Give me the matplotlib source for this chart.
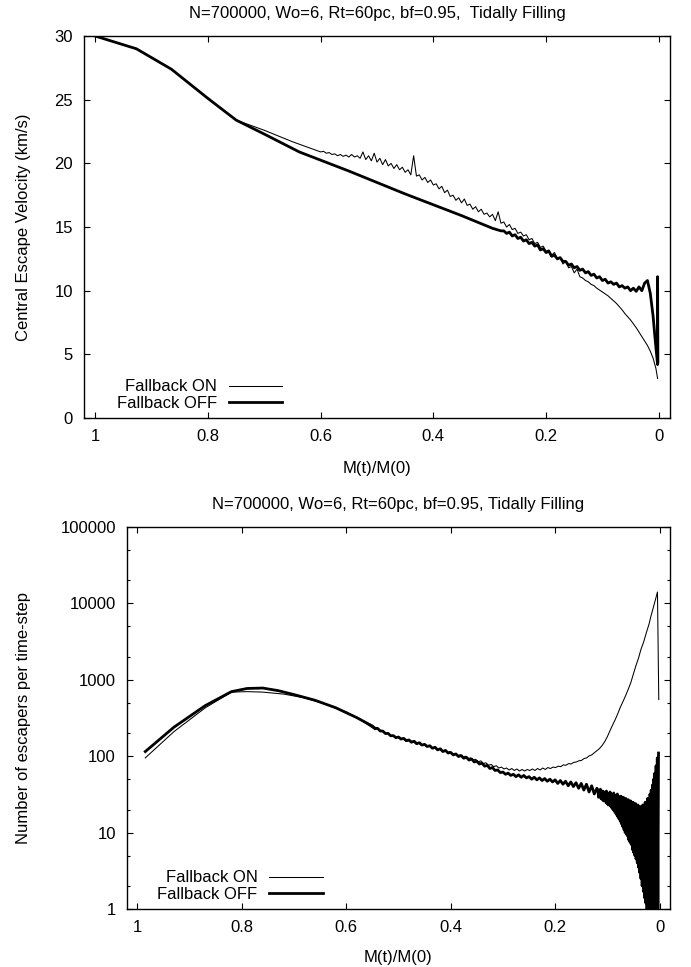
import numpy as np
import matplotlib
matplotlib.use("Agg")
import matplotlib.pyplot as plt
from matplotlib.ticker import LogLocator, NullFormatter, NullLocator

plt.rcParams['font.family'] = ['Liberation Sans', 'DejaVu Sans']
plt.rcParams['font.size'] = 12

# ===== DATA =====
TITLE_TOP = "N=700000, Wo=6, Rt=60pc, bf=0.95,  Tidally Filling"
TITLE_BOT = "N=700000, Wo=6, Rt=60pc, bf=0.95, Tidally Filling"
LABEL_ON = "Fallback ON"
LABEL_OFF = "Fallback OFF"
XTICKS = [1, 0.8, 0.6, 0.4, 0.2, 0]
XTICKLABELS = ["1", "0.8", "0.6", "0.4", "0.2", "0"]

# central escape velocity (km/s), fallback ON
vesc_on_head_m = [1.0, 0.927, 0.865, 0.80, 0.75, 0.70, 0.65]
vesc_on_head = [30.0, 29.0, 27.4, 25.1, 23.4, 22.6, 21.7]
vesc_on_noisy = [  # M from 0.600 to 0.005
    20.9, 20.95, 20.8, 20.85, 20.7, 20.75, 20.6, 20.7, 20.55, 20.65,
    20.5, 20.7, 20.5, 20.6, 20.4, 20.9, 20.3, 20.6, 20.2, 20.8,
    20.1, 20.4, 19.9, 20.3, 19.8, 20.0, 19.6, 19.9, 19.5, 19.7,
    19.3, 19.5, 19.1, 20.6, 19.0, 19.1, 18.7, 18.9, 18.5, 18.7,
    18.3, 18.4, 18.0, 18.2, 17.7, 17.9, 17.4, 17.5, 17.1, 17.3,
    16.9, 17.2, 16.7, 16.8, 16.4, 16.6, 16.2, 16.4, 16.0, 16.1,
    15.8, 16.0, 15.5, 16.2, 15.3, 15.4, 15.0, 15.2, 14.8, 14.9,
    14.5, 14.6, 14.3, 14.4, 14.0, 14.1, 13.7, 13.8, 13.4, 13.5,
    13.1, 13.2, 12.8, 13.0, 12.5, 12.6, 12.1, 12.3, 11.8, 11.9,
    11.4, 11.7, 11.1, 11.0, 10.8, 10.7, 10.5, 10.4, 10.2, 10.05,
    9.9, 9.75, 9.6, 9.4, 9.2, 9.0, 8.75, 8.5, 8.2, 7.95,
    7.7, 7.4, 7.1, 6.75, 6.4, 6.05, 5.7, 5.25, 4.7, 3.9,
]
vesc_on_tail_m = [0.002]
vesc_on_tail = [3.1]

# central escape velocity (km/s), fallback OFF
vesc_off_head_m = [1.0, 0.927, 0.865, 0.80, 0.75, 0.70, 0.638, 0.55, 0.45, 0.35, 0.295]
vesc_off_head = [30.0, 29.0, 27.4, 25.1, 23.4, 22.3, 20.9, 19.4, 17.6, 15.9, 14.9]
vesc_off_noisy = [  # M from 0.280 to 0.020
    14.7, 14.7, 14.5, 14.6, 14.3, 14.4, 14.1, 14.2, 13.9, 14.0,
    13.7, 13.8, 13.5, 13.6, 13.2, 13.3, 13.0, 13.1, 12.7, 12.8,
    12.5, 12.6, 12.3, 12.3, 12.0, 12.1, 11.8, 11.9, 11.6, 11.7,
    11.4, 11.5, 11.2, 11.3, 11.0, 11.1, 10.8, 10.9, 10.6, 10.7,
    10.5, 10.6, 10.3, 10.4, 10.2, 10.3, 10.0, 10.2, 9.95, 10.3,
    10.0, 10.6, 10.8,
]
vesc_off_tail_m = [0.015, 0.010, 0.006, 0.002, 0.002, 0.0015]
vesc_off_tail = [9.8, 8.0, 6.0, 4.2, 11.1, 4.4]

# escapers per time-step, fallback ON
esc_on_head_m = [0.985, 0.93, 0.87, 0.82, 0.79, 0.76, 0.72, 0.68, 0.64, 0.60, 0.57]
esc_on_head = [95, 210, 430, 690, 700, 690, 650, 580, 480, 380, 290]
esc_on_noisy = [  # M from 0.550 to 0.120
    235, 222, 229, 210, 211, 196, 199, 184, 186, 173,
    176, 164, 168, 156, 160, 149, 154, 143, 148, 139,
    142, 133, 137, 127, 131, 121, 125, 117, 120, 111,
    115, 106, 109, 101, 104, 96, 100, 93, 95, 89,
    91, 84, 87, 80, 82, 76, 78, 73, 75, 70,
    72, 68, 70, 66, 69, 65, 68, 64, 67, 64,
    67, 65, 68, 65, 69, 66, 70, 67, 71, 69,
    72, 71, 74, 73, 77, 76, 80, 79, 83, 84,
    87, 88, 93, 95, 101, 104, 111, 118,
]
esc_on_tail_m = [0.115, 0.11, 0.105, 0.10, 0.095, 0.09, 0.085, 0.08, 0.075, 0.07,
                 0.065, 0.06, 0.055, 0.05, 0.045, 0.04, 0.036, 0.03, 0.025, 0.02,
                 0.017, 0.013, 0.01, 0.007, 0.004, 0.0015]
esc_on_tail = [126, 138, 155, 180, 215, 255, 300, 360, 440, 520,
               620, 750, 920, 1200, 1550, 1950, 2450, 3200, 4200, 5400,
               6600, 8300, 9900, 11800, 14100, 550]

# escapers per time-step, fallback OFF
esc_off_head_m = [0.985, 0.93, 0.87, 0.82, 0.79, 0.76, 0.73, 0.70, 0.66, 0.62, 0.58]
esc_off_head = [115, 240, 460, 700, 770, 780, 720, 640, 540, 430, 320]
esc_off_noisy = [  # M from 0.550 to 0.120
    248, 232, 231, 214, 213, 198, 199, 185, 186, 175,
    178, 168, 171, 160, 163, 153, 157, 146, 150, 140,
    143, 134, 137, 127, 131, 121, 125, 115, 119, 110,
    112, 104, 107, 99, 102, 94, 97, 89, 92, 84,
    86, 79, 81, 74, 76, 69, 71, 65, 66, 61,
    62, 58, 60, 56, 58, 54, 57, 53, 56, 52,
    54, 50, 53, 49, 52, 48, 51, 47, 50, 46,
    49, 44, 48, 43, 47, 41, 46, 40, 45, 38,
    44, 36, 43, 34, 41, 32, 38,
]
esc_off_band = [  # M from 0.118 to 0.002, strongly fluctuating
    36, 29, 34, 30, 37, 28, 33, 27, 35, 26,
    34, 27, 32, 25, 35, 24, 33, 23, 31, 24,
    34, 22, 32, 21, 30, 20, 33, 19, 31, 18,
    29, 17, 32, 16, 30, 15, 28, 14, 30, 13,
    27, 12, 29, 11, 26, 10, 28, 9.5, 25, 9,
    27, 8, 24, 7.5, 26, 7, 23, 6, 25, 5.5,
    22, 5, 24, 4.5, 21, 4, 23, 3.5, 20, 3,
    22, 2.5, 21, 2, 23, 1.7, 22, 1.4, 25, 1.2,
    24, 1, 28, 0.8, 27, 0.8, 32, 0.8, 36, 0.8,
    42, 0.8, 50, 0.8, 60, 0.8, 75, 0.8, 95, 0.8,
    110,
]
# ================


def build(head_m, head, noisy, m0, m1, tail_m=(), tail=()):
    m = np.concatenate([head_m, np.linspace(m0, m1, len(noisy)), tail_m])
    v = np.concatenate([head, noisy, tail])
    return m, v


m_v_on, v_on = build(vesc_on_head_m, vesc_on_head, vesc_on_noisy, 0.600, 0.005,
                     vesc_on_tail_m, vesc_on_tail)
m_v_off, v_off = build(vesc_off_head_m, vesc_off_head, vesc_off_noisy, 0.280, 0.020,
                       vesc_off_tail_m, vesc_off_tail)
m_e_on, e_on = build(esc_on_head_m, esc_on_head, esc_on_noisy, 0.550, 0.120,
                     esc_on_tail_m, esc_on_tail)
m_e_off, e_off = build(esc_off_head_m, esc_off_head, esc_off_noisy, 0.550, 0.120)
m_e_off = np.concatenate([m_e_off, np.linspace(0.118, 0.002, len(esc_off_band))])
e_off = np.concatenate([e_off, esc_off_band])

THIN = 0.75
THICK = 2.0

fig = plt.figure(figsize=(6.91, 9.67), dpi=100)
ax1 = fig.add_axes([0.1216, 0.5677, 0.848, 0.395])
ax2 = fig.add_axes([0.1838, 0.0600, 0.7858, 0.395])

# top: escape velocity
ax1.plot(m_v_on, v_on, color="black", lw=THIN, label=LABEL_ON)
ax1.plot(m_v_off, v_off, color="black", lw=THICK, label=LABEL_OFF)
ax1.set_ylim(0, 30)
ax1.set_yticks([0, 5, 10, 15, 20, 25, 30])
ax1.set_ylabel("Central Escape Velocity (km/s)", labelpad=17)
ax1.set_title(TITLE_TOP, fontsize=12, pad=13)

# bottom: escapers per step
ax2.plot(m_e_on, e_on, color="black", lw=THIN, label=LABEL_ON)
ax2.plot(m_e_off, e_off, color="black", lw=THICK, label=LABEL_OFF)
ax2.set_yscale("log")
ax2.set_ylim(1, 1e5)
ax2.set_yticks([1, 10, 100, 1000, 10000, 100000])
ax2.set_yticklabels(["1", "10", "100", "1000", "10000", "100000"])
ax2.yaxis.set_minor_locator(LogLocator(base=10, subs=(2.0, 5.0)))
ax2.yaxis.set_minor_formatter(NullFormatter())
ax2.set_ylabel("Number of escapers per time-step", labelpad=21)
ax2.set_title(TITLE_BOT, fontsize=12, pad=13)

for ax, lp in ((ax1, 12), (ax2, 11)):
    ax.set_xlim(1.02, -0.02)
    ax.set_xticks(XTICKS)
    ax.set_xticklabels(XTICKLABELS)
    ax.xaxis.set_minor_locator(NullLocator())
    ax.set_xlabel("M(t)/M(0)", labelpad=lp)
    ax.tick_params(which="major", direction="in", top=True, right=True,
                   length=4.5, width=0.8, pad=8)
    ax.tick_params(which="minor", direction="in", top=True, right=True,
                   length=2.2, width=0.8)
    for s in ax.spines.values():
        s.set_linewidth(1.0)
    ax.legend(loc="lower left", bbox_to_anchor=(0.056, 0.018), frameon=False,
              markerfirst=False, borderpad=0, borderaxespad=0,
              handlelength=3.2, handletextpad=0.7, labelspacing=0.1)

fig.savefig("out.png", dpi=100)
